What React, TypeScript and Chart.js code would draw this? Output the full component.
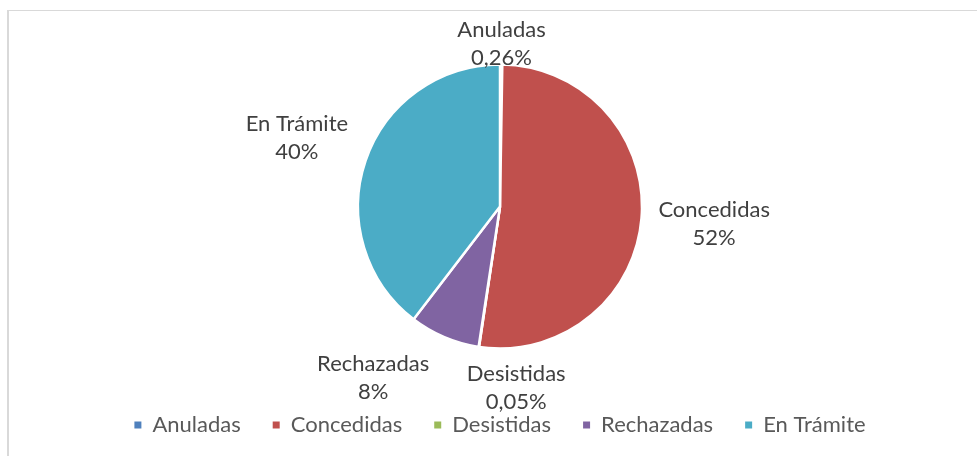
import React, { useEffect, useRef } from "react";
import { Chart, registerables } from "chart.js";

Chart.register(...registerables);

const categories = ["Anuladas", "Concedidas", "Desistidas", "Rechazadas", "En Trámite"];
const shares = [0.26, 52.1, 0.05, 8.0, 39.59];
const sliceColors = ["#4F81BD", "#C0504D", "#9BBB59", "#8064A2", "#4BACC6"];

const FONT_FAMILY = "Lato, 'Open Sans', sans-serif";
const FONT_SIZE = 22;
const LINE_H = 28;
const LABEL_GAP = 15;
const LABEL_MARGIN = 36;
const LABEL_MIN_TOP = 16;
const LABEL_MAX_BOTTOM = 416;

function pctText(v: number): string {
  const s = v >= 1 ? String(Math.round(v)) : v.toFixed(2);
  return s.replace(".", ",") + "%";
}

const outerLabels = {
  id: "outerLabels",
  afterDatasetsDraw(chart: any) {
    const ctx = chart.ctx as CanvasRenderingContext2D;
    const meta = chart.getDatasetMeta(0);
    ctx.save();
    ctx.font = `${FONT_SIZE}px ${FONT_FAMILY}`;
    const boxes = meta.data.map((arc: any, i: number) => {
      const p = arc.getProps(["x", "y", "startAngle", "endAngle", "outerRadius"], true);
      const lines = [categories[i], pctText(shares[i])];
      const w = Math.max(...lines.map((l) => ctx.measureText(l).width));
      return {
        x: p.x, y: p.y, r: p.outerRadius,
        angle: (p.startAngle + p.endAngle) / 2,
        w, h: lines.length * LINE_H, lines, cx: 0, cy: 0,
      };
    });
    const place = (b: any) => {
      const ux = Math.cos(b.angle), uy = Math.sin(b.angle);
      const ext = Math.abs(ux) * b.w / 2 + Math.abs(uy) * b.h / 2;
      const d = b.r + LABEL_GAP + ext;
      b.cx = b.x + ux * d;
      b.cy = b.y + uy * d;
      if (b.cy - b.h / 2 < LABEL_MIN_TOP) b.cy = LABEL_MIN_TOP + b.h / 2;
      if (b.cy + b.h / 2 > LABEL_MAX_BOTTOM) b.cy = LABEL_MAX_BOTTOM - b.h / 2;
    };
    boxes.forEach(place);
    const overlaps = (a: any, b: any) =>
      Math.abs(a.cx - b.cx) < (a.w + b.w) / 2 + LABEL_MARGIN &&
      Math.abs(a.cy - b.cy) < (a.h + b.h) / 2;
    for (let it = 0; it < 400; it++) {
      let moved = false;
      for (let i = 0; i < boxes.length; i++) {
        for (let j = i + 1; j < boxes.length; j++) {
          if (overlaps(boxes[i], boxes[j])) {
            const step = (0.25 * Math.PI) / 180;
            boxes[i].angle -= step;
            boxes[j].angle += step;
            place(boxes[i]);
            place(boxes[j]);
            moved = true;
          }
        }
      }
      if (!moved) break;
    }
    ctx.fillStyle = "#404040";
    ctx.textAlign = "center";
    ctx.textBaseline = "middle";
    boxes.forEach((b: any) => {
      b.lines.forEach((l: string, k: number) => {
        ctx.fillText(l, b.cx, b.cy + (k - (b.lines.length - 1) / 2) * LINE_H);
      });
    });
    ctx.restore();
  },
};

export default function App() {
  const ref = useRef<HTMLCanvasElement>(null);
  useEffect(() => {
    if (!ref.current) return;
    const baseGen = (Chart as any).overrides.pie.plugins.legend.labels.generateLabels;
    const chart = new Chart(ref.current, {
      type: "pie",
      data: {
        labels: categories,
        datasets: [
          {
            data: shares,
            backgroundColor: sliceColors,
            borderColor: "#ffffff",
            borderWidth: 2.5,
            radius: 142,
          } as any,
        ],
      },
      options: {
        animation: false,
        responsive: false,
        layout: { padding: { left: 23, right: 0, top: 31, bottom: 10 } },
        plugins: {
          tooltip: { enabled: false },
          legend: {
            position: "bottom",
            labels: {
              boxWidth: 7,
              boxHeight: 7,
              padding: 32,
              color: "#595959",
              font: { family: FONT_FAMILY, size: FONT_SIZE },
              generateLabels: (c: any) =>
                baseGen(c).map((it: any) => ({ ...it, strokeStyle: it.fillStyle, lineWidth: 0 })),
            },
          },
        },
      },
      plugins: [outerLabels],
    });
    return () => chart.destroy();
  }, []);
  return (
    <div style={{ position: "fixed", left: 0, top: 0, width: 977, height: 456, background: "#fff", overflow: "hidden" }}>
      <div
        style={{
          position: "absolute", left: 7, top: 10, right: 0, bottom: 0,
          borderTop: "1px solid #d9d9d9", borderLeft: "2px solid #d9d9d9",
        }}
      />
      <canvas ref={ref} width={977} height={456} style={{ position: "absolute", left: 0, top: 0 }} />
    </div>
  );
}
